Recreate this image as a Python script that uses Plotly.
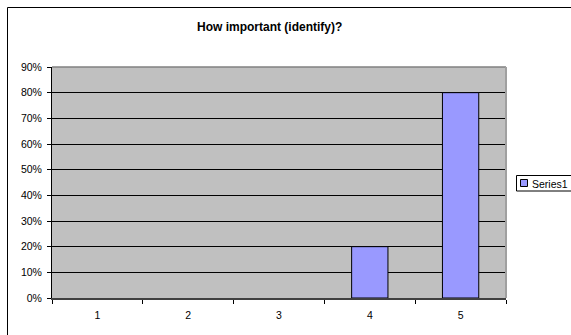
import plotly.graph_objects as go

categories = ["1", "2", "3", "4", "5"]
values = [0.0, 0.0, 0.0, 0.2, 0.8]
series_name = "Series1"
title_text = "How important (identify)?"

W, H = 571, 335
L, R, T, B = 52, 65, 67, 37
pw, ph = W - L - R, H - T - B

def px(x):
    return (x - L) / pw

def py(y):
    return (H - B - y) / ph

FONT = "Arial, Liberation Sans, sans-serif"

fig = go.Figure()
fig.add_trace(go.Bar(
    x=categories, y=values, name=series_name,
    marker=dict(color="#9999FF",
                line=dict(color="black", width=[1 if v > 0 else 0 for v in values])),
    width=0.4, showlegend=False,
))

shapes = [
    # outer chart frame (clipped by page)
    dict(type="rect", xref="paper", yref="paper", x0=px(7.5), x1=px(600), y0=py(7.5), y1=py(360),
         line=dict(color="black", width=1), fillcolor="rgba(0,0,0,0)", layer="below"),
    # plot area border
    dict(type="line", xref="paper", yref="paper", x0=0, x1=1, y0=1, y1=1,
         line=dict(color="#808080", width=1.5), layer="above"),
    dict(type="line", xref="paper", yref="paper", x0=1, x1=1, y0=0, y1=1,
         line=dict(color="#a0a0a0", width=2), layer="above"),
    # legend box
    dict(type="rect", xref="paper", yref="paper", x0=px(516.5), x1=px(600), y0=py(191), y1=py(175.5),
         line=dict(color="black", width=1), fillcolor="white"),
    dict(type="rect", xref="paper", yref="paper", x0=px(520.5), x1=px(527.5), y0=py(186.5), y1=py(179.5),
         line=dict(color="black", width=1), fillcolor="#9999FF"),
]

annotations = [
    dict(text="<b>%s</b>" % title_text, xref="paper", yref="paper", x=px(269), y=py(27),
         xanchor="center", yanchor="middle", showarrow=False,
         font=dict(family=FONT, size=12, color="black")),
    dict(text=series_name, xref="paper", yref="paper", x=px(530), y=py(183.5),
         xanchor="left", yanchor="middle", showarrow=False,
         font=dict(family=FONT, size=10.5, color="black")),
]

fig.update_layout(
    width=W, height=H,
    margin=dict(l=L, r=R, t=T, b=B, pad=0),
    paper_bgcolor="white", plot_bgcolor="#C0C0C0",
    font=dict(family=FONT, size=10.5, color="black"),
    bargap=0.6,
    shapes=shapes, annotations=annotations,
    showlegend=False,
)
fig.update_yaxes(
    range=[0, 0.9], dtick=0.1, tick0=0, tickformat=".0%",
    showgrid=True, gridcolor="black", gridwidth=1,
    showline=True, linecolor="black", linewidth=1,
    ticks="outside", ticklen=4, tickcolor="black", zeroline=False,
    ticklabelstandoff=3, fixedrange=True,
)
fig.update_xaxes(
    type="category", tickson="boundaries", ticks="outside", ticklen=4, tickcolor="black",
    showline=True, linecolor="#404040", linewidth=2, showgrid=False,
    ticklabelstandoff=6, fixedrange=True,
)

fig.write_html("out.html")
